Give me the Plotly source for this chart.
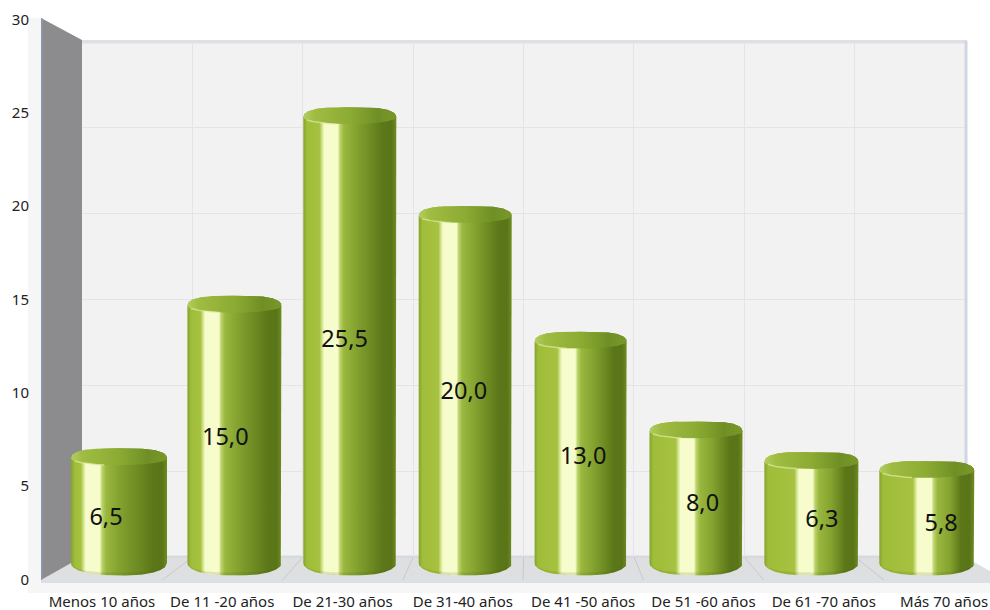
import numpy as np
import plotly.graph_objects as go

categories = ["Menos 10 años", "De 11 -20 años", "De 21-30 años", "De 31-40 años",
              "De 41 -50 años", "De 51 -60 años", "De 61 -70 años", "Más 70 años"]
values = [6.5, 15.0, 25.5, 20.0, 13.0, 8.0, 6.3, 5.8]
value_labels = ["6,5", "15,0", "25,5", "20,0", "13,0", "8,0", "6,3", "5,8"]
y_ticks = [0, 5, 10, 15, 20, 25, 30]

W, H = 990, 610
FONT = "Noto Sans"
TEXT = "#222222"


def py(px):  # pixel y -> paper fraction
    return 1 - px / H


# Bar plane scale (pixels per unit), used to size the cylinder in data units
BAR_DX, BAR_X0 = 115.4, 119.0
BAR_DY, BAR_Y0 = 17.95, 575.0
bar_px_widths = [96, 94, 93, 93, 92, 93, 94, 95]
t = np.linspace(-1, 1, 161)


def body_gradient(i):
    tc = 0.234 + 0.0357 * i
    return [[0, "#84a32c"], [0.04, "#a0bd3a"], [tc - 0.13, "#a6c240"], [tc - 0.105, "#cfe28a"],
            [tc - 0.08, "#f6fccb"], [tc + 0.065, "#f6fccb"], [tc + 0.09, "#bdd36c"],
            [tc + 0.13, "#9ab83f"], [tc + 0.26, "#84a32f"], [0.86, "#5b7719"],
            [0.95, "#5a7518"], [1, "#6e8c22"]]


CAP_GRADIENT = [[0, "#b4cd62"], [0.12, "#a0bc42"], [0.5, "#8cab33"], [0.8, "#6f8f25"], [1, "#7a9829"]]

traces = []
# Back wall grid (subplot xy)
traces.append(go.Scatter(x=[0], y=[0], xaxis="x", yaxis="y", mode="markers",
                         marker=dict(opacity=0), hoverinfo="skip", showlegend=False))
# Data bars (core, wrapped by cylinder surfaces)
traces.append(go.Bar(x=list(range(8)), y=values, xaxis="x2", yaxis="y2", width=0.3,
                     marker=dict(color="#8cab33", line=dict(width=0)), hovertext=categories,
                     showlegend=False))
for i, v in enumerate(values):
    half = bar_px_widths[i] / 2 / BAR_DX
    xs = i + half * t
    top = v + 10 / BAR_DY * (1 - np.abs(t) ** 3.5) ** (1 / 2.2)
    bottom = 12 / BAR_DY - 12.5 / BAR_DY * (1 - np.abs(t) ** 2.6) ** 0.5
    # Cylinder body
    traces.append(go.Scatter(
        x=np.concatenate([xs, xs[::-1]]), y=np.concatenate([top, bottom[::-1]]),
        xaxis="x2", yaxis="y2", mode="lines", line=dict(width=0), fill="toself",
        fillgradient=dict(type="horizontal", colorscale=body_gradient(i)),
        hoverinfo="skip", showlegend=False))
    # Bottom shading
    inner = bottom + 3 / BAR_DY * (1 - t ** 2) ** 0.5
    traces.append(go.Scatter(
        x=np.concatenate([xs, xs[::-1]]), y=np.concatenate([inner, bottom[::-1]]),
        xaxis="x2", yaxis="y2", mode="lines", line=dict(width=0), fill="toself",
        fillcolor="rgba(70,90,0,0.14)", hoverinfo="skip", showlegend=False))
    # Top cap
    lower = v - 7 / BAR_DY * (1 - t ** 2) ** 0.5
    traces.append(go.Scatter(
        x=np.concatenate([xs, xs[::-1]]), y=np.concatenate([top, lower[::-1]]),
        xaxis="x2", yaxis="y2", mode="lines", line=dict(width=0), fill="toself",
        fillgradient=dict(type="horizontal", colorscale=CAP_GRADIENT),
        hoverinfo="skip", showlegend=False))
    # Light streak under the cap's left side
    mask = (t > -0.93) & (t < -0.3)
    traces.append(go.Scatter(
        x=xs[mask], y=lower[mask], xaxis="x2", yaxis="y2", mode="lines",
        line=dict(width=1.5, color="rgba(225,240,165,0.65)"), hoverinfo="skip", showlegend=False))

# Front plane axes (tick labels)
traces.append(go.Scatter(x=categories, y=[0] * 8, xaxis="x3", yaxis="y3", mode="markers",
                         marker=dict(opacity=0), hoverinfo="skip", showlegend=False))
# Value labels, halfway up each bar on the front plane
traces.append(go.Scatter(x=list(range(8)), y=[v / 2 for v in values], xaxis="x4", yaxis="y3",
                         mode="text", text=value_labels, textposition="middle center",
                         textfont=dict(family=FONT, size=23.5, color="#111111"),
                         hoverinfo="skip", showlegend=False))

fig = go.Figure(traces)

# Decorative 3D box
floor_lines = [dict(type="line", xref="paper", yref="paper",
                    x0=(82 + 110.4 * k) / W, y0=py(557), x1=(42 + 120.3 * k) / W, y1=py(580),
                    line=dict(color="#c6cacf", width=1), layer="below") for k in range(1, 8)]


def poly(points, color):
    d = "M" + " L".join(f"{x / W:.5f},{py(y):.5f}" for x, y in points) + " Z"
    return dict(type="path", xref="paper", yref="paper", path=d, fillcolor=color,
                line=dict(width=0), layer="below")


shapes = [
    poly([(28, 18), (41, 18), (41, 582), (1000, 582), (1000, 593), (28, 593)], "#f6f6f6"),
    poly([(82, 42), (965, 42), (965, 557), (82, 557)], "#f2f2f2"),
    poly([(41, 580), (82, 557), (965, 557), (1006, 580)], "#dedfe0"),
    poly([(41, 580), (1000, 580), (1000, 583), (41, 583)], "#dce0e6"),
    poly([(82, 40), (967, 40), (967, 43.5), (82, 43.5)], "#dde0e5"),
    poly([(964.5, 41), (967.5, 41), (967.5, 558), (964.5, 558)], "#cfd6e2"),
    poly([(82, 555.5), (966, 555.5), (966, 558), (82, 558)], "#d6d9dd"),
    poly([(41, 18), (82, 40), (82, 557), (41, 580)], "#8c8c8e"),
    poly([(41, 18), (43, 19), (43, 579), (41, 580)], "#8c95a6"),
] + floor_lines

hidden = dict(visible=False, automargin=False)
fig.update_layout(
    width=W, height=H, margin=dict(l=0, r=0, t=0, b=0, pad=0), autosize=False,
    paper_bgcolor="#ffffff", plot_bgcolor="rgba(0,0,0,0)", showlegend=False,
    shapes=shapes, barmode="overlay",
    # Back wall
    xaxis=dict(domain=[82 / W, 965 / W], range=[0, 8], dtick=1, showgrid=True, gridcolor="#e4e4e6",
               gridwidth=1, zeroline=False, showline=False, showticklabels=False, ticks="",
               anchor="y", automargin=False),
    yaxis=dict(domain=[py(557), py(42)], range=[0, 30], dtick=5, showgrid=True, gridcolor="#e4e4e6",
               gridwidth=1, zeroline=False, showline=False, showticklabels=False, ticks="",
               anchor="x", automargin=False),
    # Bars
    xaxis2=dict(domain=[0, 1], range=[-BAR_X0 / BAR_DX, (W - BAR_X0) / BAR_DX], anchor="y2", **hidden),
    yaxis2=dict(domain=[0, 1], range=[(BAR_Y0 - H) / BAR_DY, BAR_Y0 / BAR_DY], anchor="x2", **hidden),
    # Front plane with tick labels
    xaxis3=dict(domain=[42 / W, 1], type="category", categoryorder="array", categoryarray=categories,
                range=[-0.498, (W - 102) / 120.3], anchor="y3", showgrid=False, zeroline=False,
                showline=False, ticks="outside", ticklen=8.5, tickcolor="rgba(0,0,0,0)",
                tickfont=dict(family=FONT, size=15, color=TEXT), tickangle=0, automargin=False),
    yaxis3=dict(domain=[py(579.5), py(19.5)], range=[0, 30], tickvals=y_ticks, anchor="x3", showgrid=False,
                zeroline=False, showline=False, ticks="outside", ticklen=9, automargin=False,
                tickcolor="rgba(0,0,0,0)", tickfont=dict(family=FONT, size=15, color=TEXT)),
    # Value label grid
    xaxis4=dict(domain=[0, 1], range=[-106 / 119.3, (W - 106) / 119.3], anchor="y3", **hidden),
)
fig.write_html("out.html", config={"displayModeBar": False},
               post_script="document.body.style.margin='0';")
